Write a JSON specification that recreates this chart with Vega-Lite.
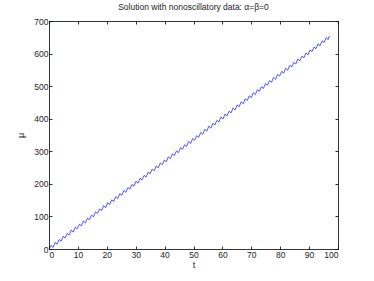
{
  "$schema": "https://vega.github.io/schema/vega-lite/v6.json",
  "autosize": {"type": "none"},
  "padding": {"left": 49, "top": 21, "right": 36, "bottom": 32},
  "width": 289,
  "height": 228,
  "background": "white",
  "config": {
    "view": {"stroke": null},
    "font": "Liberation Sans",
    "axis": {"grid": false, "domainColor": "#000", "tickColor": "#000", "labelColor": "#222", "labelFont": "Liberation Sans", "labelFontSize": 8.5, "titleFont": "Liberation Sans", "titleFontSize": 9, "titleFontWeight": "normal", "titleColor": "#222", "tickSize": -3, "domainWidth": 0.8, "tickWidth": 0.8}
  },
  "title": {"text": "Solution with nonoscillatory data: α=β=0", "fontSize": 8.5, "fontWeight": "normal", "font": "Liberation Sans", "color": "#222", "offset": 6, "anchor": "middle"},
  "data": {"values": [
    {"t":0,"mu":0},{"t":0.7,"mu":11},{"t":1.4,"mu":5},{"t":2.1,"mu":20},{"t":2.8,"mu":15},{"t":3.5,"mu":29},{"t":4.2,"mu":24},{"t":4.9,"mu":39},{"t":5.6,"mu":34},{"t":6.3,"mu":48},
    {"t":7.0,"mu":43},{"t":7.7,"mu":58},{"t":8.4,"mu":52},{"t":9.1,"mu":67},{"t":9.8,"mu":62},{"t":10.5,"mu":76},{"t":11.2,"mu":71},{"t":11.9,"mu":86},{"t":12.6,"mu":80},{"t":13.3,"mu":95},
    {"t":14.0,"mu":90},{"t":14.7,"mu":104},{"t":15.4,"mu":99},{"t":16.1,"mu":114},{"t":16.8,"mu":109},{"t":17.5,"mu":123},{"t":18.2,"mu":118},{"t":18.9,"mu":133},{"t":19.6,"mu":127},{"t":20.3,"mu":142},
    {"t":21.0,"mu":137},{"t":21.7,"mu":151},{"t":22.4,"mu":146},{"t":23.1,"mu":161},{"t":23.8,"mu":155},{"t":24.5,"mu":170},{"t":25.2,"mu":165},{"t":25.9,"mu":180},{"t":26.6,"mu":174},{"t":27.3,"mu":189},
    {"t":28.0,"mu":184},{"t":28.7,"mu":198},{"t":29.4,"mu":193},{"t":30.1,"mu":208},{"t":30.8,"mu":202},{"t":31.5,"mu":217},{"t":32.2,"mu":212},{"t":32.9,"mu":226},{"t":33.6,"mu":221},{"t":34.3,"mu":236},
    {"t":35.0,"mu":231},{"t":35.7,"mu":245},{"t":36.4,"mu":240},{"t":37.1,"mu":255},{"t":37.8,"mu":249},{"t":38.5,"mu":264},{"t":39.2,"mu":259},{"t":39.9,"mu":273},{"t":40.6,"mu":268},{"t":41.3,"mu":283},
    {"t":42.0,"mu":277},{"t":42.7,"mu":292},{"t":43.4,"mu":287},{"t":44.1,"mu":301},{"t":44.8,"mu":296},{"t":45.5,"mu":311},{"t":46.2,"mu":306},{"t":46.9,"mu":320},{"t":47.6,"mu":315},{"t":48.3,"mu":330},
    {"t":49.0,"mu":324},{"t":49.7,"mu":339},{"t":50.4,"mu":334},{"t":51.1,"mu":348},{"t":51.8,"mu":343},{"t":52.5,"mu":358},{"t":53.2,"mu":352},{"t":53.9,"mu":367},{"t":54.6,"mu":362},{"t":55.3,"mu":377},
    {"t":56.0,"mu":371},{"t":56.7,"mu":386},{"t":57.4,"mu":381},{"t":58.1,"mu":395},{"t":58.8,"mu":390},{"t":59.5,"mu":405},{"t":60.2,"mu":399},{"t":60.9,"mu":414},{"t":61.6,"mu":409},{"t":62.3,"mu":423},
    {"t":63.0,"mu":418},{"t":63.7,"mu":433},{"t":64.4,"mu":427},{"t":65.1,"mu":442},{"t":65.8,"mu":437},{"t":66.5,"mu":452},{"t":67.2,"mu":446},{"t":67.9,"mu":461},{"t":68.6,"mu":456},{"t":69.3,"mu":470},
    {"t":70.0,"mu":465},{"t":70.7,"mu":480},{"t":71.4,"mu":474},{"t":72.1,"mu":489},{"t":72.8,"mu":484},{"t":73.5,"mu":498},{"t":74.2,"mu":493},{"t":74.9,"mu":508},{"t":75.6,"mu":503},{"t":76.3,"mu":517},
    {"t":77.0,"mu":512},{"t":77.7,"mu":527},{"t":78.4,"mu":521},{"t":79.1,"mu":536},{"t":79.8,"mu":531},{"t":80.5,"mu":545},{"t":81.2,"mu":540},{"t":81.9,"mu":555},{"t":82.6,"mu":549},{"t":83.3,"mu":564},
    {"t":84.0,"mu":559},{"t":84.7,"mu":573},{"t":85.4,"mu":568},{"t":86.1,"mu":583},{"t":86.8,"mu":578},{"t":87.5,"mu":592},{"t":88.2,"mu":587},{"t":88.9,"mu":602},{"t":89.6,"mu":596},{"t":90.3,"mu":611},
    {"t":91.0,"mu":606},{"t":91.7,"mu":620},{"t":92.4,"mu":615},{"t":93.1,"mu":630},{"t":93.8,"mu":624},{"t":94.5,"mu":639},{"t":95.2,"mu":634},{"t":95.9,"mu":649},{"t":96.6,"mu":643},{"t":97.0,"mu":654}
  ]},
  "layer": [
    {
      "mark": {"type": "line", "color": "#0000ff", "strokeWidth": 0.9, "opacity": 0.75},
      "encoding": {
        "x": {"field": "t", "type": "quantitative", "scale": {"domain": [0, 100], "nice": false}, "axis": {"title": "t", "values": [0,10,20,30,40,50,60,70,80,90,100], "labelPadding": 4, "titlePadding": 2}},
        "y": {"field": "mu", "type": "quantitative", "scale": {"domain": [0, 700], "nice": false}, "axis": {"title": "μ", "values": [0,100,200,300,400,500,600,700], "labelPadding": 4, "titlePadding": 8}}
      }
    },
    {
      "mark": {"type": "line", "opacity": 0},
      "encoding": {
        "x": {"field": "t", "type": "quantitative", "scale": {"domain": [0, 100], "nice": false}, "axis": {"orient": "top", "title": null, "labels": false, "values": [0,10,20,30,40,50,60,70,80,90,100]}},
        "y": {"field": "mu", "type": "quantitative", "scale": {"domain": [0, 700], "nice": false}, "axis": {"orient": "right", "title": null, "labels": false, "values": [0,100,200,300,400,500,600,700]}}
      }
    }
  ],
  "resolve": {"axis": {"x": "independent", "y": "independent"}}
}
